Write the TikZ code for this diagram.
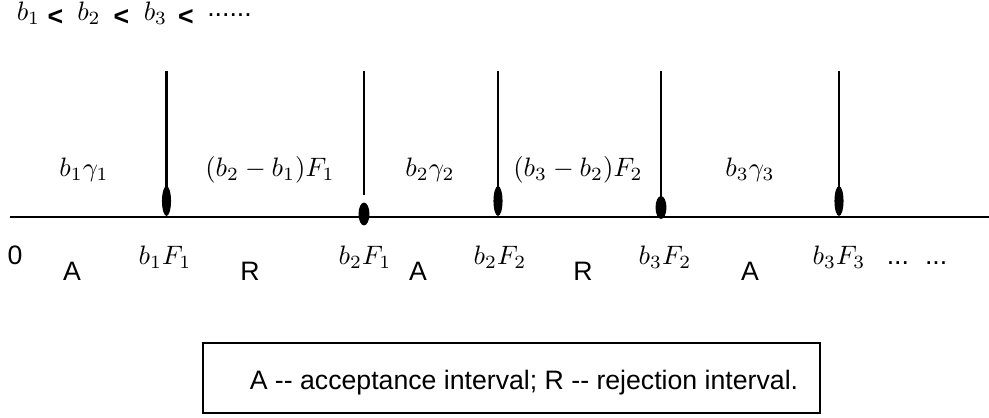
\documentclass[tikz,border=0pt]{standalone}
\usepackage{fontspec}
\newfontfamily\arialf{Liberation Sans}
\usetikzlibrary{shapes.geometric}
\begin{document}
\begin{tikzpicture}[x=0.375pt,y=-0.375pt,
  axisline/.style={line width=1pt},
  stem/.style={line width=1.1pt},
  longdot/.style={ellipse,fill=black,inner sep=0pt,minimum width=3.4pt,minimum height=11.2pt},
  rounddot/.style={ellipse,fill=black,inner sep=0pt,minimum width=4.1pt,minimum height=8.6pt},
  mlab/.style={anchor=base,inner sep=0pt,font=\fontsize{10}{12}\selectfont},
  slab/.style={anchor=base,inner sep=0pt,font=\arialf\fontsize{10}{12}\selectfont},
  lt/.style={anchor=base,inner sep=0pt,font=\arialf\bfseries\fontsize{10}{12}\selectfont},
]
\useasboundingbox (0,0) rectangle (989,418);

% top ordering line
\node[mlab] (o1) at (28.5,21) {$b_1$};
\node[lt]   (l1) at (55.5,26) {<};
\node[mlab] (o2) at (89,21) {$b_2$};
\node[lt]   (l2) at (121.5,26) {<};
\node[mlab] (o3) at (155.5,21) {$b_3$};
\node[lt]   (l3) at (186,26) {<};
\node[slab] (od) at (229.5,17) {......};

% axis
\coordinate (axL) at (10,217);
\coordinate (axR) at (989,217);
\draw[axisline] (axL) -- (axR);

% stems and dots
\coordinate (t1) at (166.5,71);
\coordinate (t2) at (364,71);
\coordinate (t3) at (498,71);
\coordinate (t4) at (661,71);
\coordinate (t5) at (839,71);
\coordinate (e2) at (364,195);

\node[longdot] (d1) at (166.5,201) {};
\node[rounddot] (d2) at (364,214) {};
\node[longdot] (d3) at (498,201) {};
\node[rounddot] (d4) at (661,207.5) {};
\node[longdot] (d5) at (839,201) {};

\draw[stem] (t1) -- (d1.center);
\draw[stem] (t2) -- (e2);
\draw[stem] (t3) -- (d3.center);
\draw[stem] (t4) -- (d4.center);
\draw[stem] (t5) -- (d5.center);

% labels above axis
\node[mlab] (g1) at (84,177) {$b_1\gamma_1$};
\node[mlab] (f1) at (270,177) {$(b_2-b_1)F_1$};
\node[mlab] (g2) at (430,177) {$b_2\gamma_2$};
\node[mlab] (f2) at (578,177) {$(b_3-b_2)F_2$};
\node[mlab] (g3) at (750,177) {$b_3\gamma_3$};

% labels below axis
\node[slab] (zero) at (15,265) {0};
\node[mlab] (p1) at (165,265) {$b_1F_1$};
\node[mlab] (p2) at (365,265) {$b_2F_1$};
\node[mlab] (p3) at (500,265) {$b_2F_2$};
\node[mlab] (p4) at (665,265) {$b_3F_2$};
\node[mlab] (p5) at (839,265) {$b_3F_3$};
\node[slab] (dots) at (917,265) {...\hspace{6pt}...};

\node[slab] (a1) at (72,281) {A};
\node[slab] (r1) at (250,281) {R};
\node[slab] (a2) at (418,281) {A};
\node[slab] (r2) at (583,281) {R};
\node[slab] (a3) at (750,281) {A};

% legend
\node[draw,line width=0.8pt,minimum width=231.4pt,minimum height=26.25pt,inner sep=0pt] (legbox) at (511.5,378) {};
\node[slab] (legtext) at (524,390) {A -- acceptance interval; R -- rejection interval.};
\end{tikzpicture}
\end{document}
